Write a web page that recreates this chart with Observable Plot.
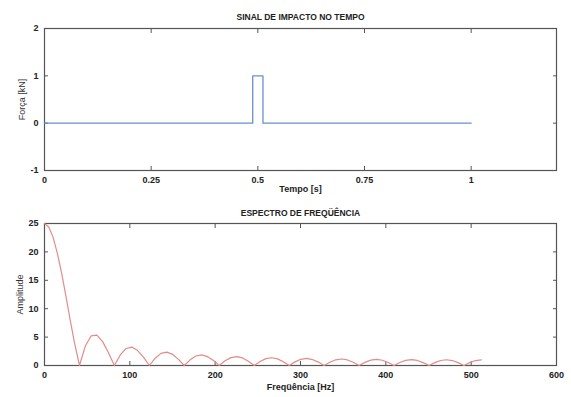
<!DOCTYPE html>
<html>
<head>
<meta charset="utf-8">
<script src="https://cdn.jsdelivr.net/npm/d3@7"></script>
<script src="https://cdn.jsdelivr.net/npm/@observablehq/plot@0.6"></script>
<style>
  html, body { margin: 0; padding: 0; background: #fff; }
  #chart { width: 571px; height: 397px; }
  #chart svg { display: block; }
</style>
</head>
<body>
<div id="chart"></div>
<script>
// ---- Data: time signal ----
const timeS = [0, 0.488, 0.488, 0.512, 0.512, 1];
const forceKN = [0, 0, 1, 1, 0, 0];
const timeTicks = [0, 0.25, 0.5, 0.75, 1];
const forceTicks = [-1, 0, 1, 2];

// ---- Data: spectrum ----
const freqHz = [
  0, 5, 10, 15, 20, 25, 30, 35, 41.0,
  47.8, 54.6, 61.4, 68.3, 75.1, 81.9,
  88.8, 95.6, 102.4, 109.2, 116.1, 122.9,
  129.7, 136.5, 143.4, 150.2, 157.0, 163.8,
  170.7, 177.5, 184.3, 191.2, 198.0, 204.8,
  211.6, 218.5, 225.3, 232.1, 238.9, 245.8,
  252.6, 259.4, 266.2, 273.1, 279.9, 286.7,
  293.6, 300.4, 307.2, 314.0, 320.9, 327.7,
  334.5, 341.3, 348.2, 355.0, 361.8, 368.6,
  375.5, 382.3, 389.1, 396.0, 402.8, 409.6,
  416.4, 423.3, 430.1, 436.9, 443.7, 450.6,
  457.4, 464.2, 471.0, 477.9, 484.7, 491.5,
  498.4, 505.2, 512
];
const amplitude = [
  25, 24.4, 22.6, 19.8, 16.3, 12.3, 8.1, 4.1, 0,
  3.42, 5.20, 5.34, 4.16, 2.19, 0,
  1.86, 3.00, 3.24, 2.63, 1.43, 0,
  1.29, 2.13, 2.35, 1.95, 1.08, 0,
  1.00, 1.67, 1.87, 1.56, 0.88, 0,
  0.83, 1.39, 1.57, 1.33, 0.75, 0,
  0.71, 1.21, 1.37, 1.17, 0.66, 0,
  0.64, 1.09, 1.24, 1.05, 0.60, 0,
  0.58, 1.00, 1.14, 0.98, 0.56, 0,
  0.55, 0.94, 1.08, 0.92, 0.53, 0,
  0.52, 0.90, 1.03, 0.89, 0.51, 0,
  0.51, 0.88, 1.01, 0.87, 0.50, 0,
  0.50, 0.87, 1.00
];
const freqTicks = [0, 100, 200, 300, 400, 500, 600];
const ampTicks = [0, 5, 10, 15, 20, 25];

const title1 = "SINAL DE IMPACTO NO TEMPO";
const title2 = "ESPECTRO DE FREQÜÊNCIA";
const xLabel1 = "Tempo [s]";
const yLabel1 = "Força [kN]";
const xLabel2 = "Freqüência [Hz]";
const yLabel2 = "Amplitude";

const timeData = timeS.map((t, i) => ({t, f: forceKN[i]}));
const specData = freqHz.map((f, i) => ({f, a: amplitude[i]}));

const axisColor = "#555";
const font = "Liberation Sans, Arial, sans-serif";

function boxAxes(xTicks, yTicks, xLabel, yLabel, xLabelOffset, yLabelOffset) {
  return [
    Plot.axisX({anchor: "bottom", ticks: xTicks, tickSize: 0, tickPadding: 6, tickFormat: d => String(d),
      fontSize: 9, fontWeight: "bold", color: "#222", label: xLabel, labelAnchor: "center", labelArrow: "none", labelOffset: xLabelOffset}),
    Plot.axisX({anchor: "bottom", ticks: xTicks, tickSize: -4, text: null, label: null, stroke: axisColor}),
    Plot.axisX({anchor: "top", ticks: xTicks, tickSize: -4, text: null, label: null, stroke: axisColor}),
    Plot.axisY({anchor: "left", ticks: yTicks, tickSize: 0, tickPadding: 6, tickFormat: d => String(d),
      fontSize: 9, fontWeight: "bold", color: "#222", label: null}),
    Plot.axisY({anchor: "left", ticks: [], tickSize: 0, fontSize: 9, fontWeight: "normal", color: "#333",
      label: yLabel, labelAnchor: "center", labelArrow: "none", labelOffset: yLabelOffset}),
    Plot.axisY({anchor: "left", ticks: yTicks, tickSize: -4, text: null, label: null, stroke: axisColor}),
    Plot.axisY({anchor: "right", ticks: yTicks, tickSize: -4, text: null, label: null, stroke: axisColor}),
    Plot.frame({stroke: axisColor, strokeWidth: 1.2})
  ];
}

const plot1 = Plot.plot({
  width: 571, height: 200,
  marginLeft: 44, marginRight: 15, marginTop: 28, marginBottom: 30,
  style: {fontFamily: font, fontSize: "9px", background: "#fff", color: "#222"},
  x: {domain: [0, 1.2]},
  y: {domain: [-1, 2]},
  marks: [
    ...boxAxes(timeTicks, forceTicks, xLabel1, yLabel1, 21, 26),
    Plot.line(timeData, {x: "t", y: "f", stroke: "#6a8fd0", strokeWidth: 1.3}),
    Plot.text([title1], {frameAnchor: "top", dy: -15, text: d => d, fontSize: 8.5, fontWeight: "bold", fill: "#222"})
  ]
});

const plot2 = Plot.plot({
  width: 571, height: 197,
  marginLeft: 44, marginRight: 15, marginTop: 23, marginBottom: 32,
  style: {fontFamily: font, fontSize: "9px", background: "#fff", color: "#222"},
  x: {domain: [0, 600]},
  y: {domain: [0, 25]},
  marks: [
    ...boxAxes(freqTicks, ampTicks, xLabel2, yLabel2, 24, 28),
    Plot.line(specData, {x: "f", y: "a", stroke: "#e58a8a", strokeWidth: 1.2}),
    Plot.text([title2], {frameAnchor: "top", dy: -14, text: d => d, fontSize: 8.5, fontWeight: "bold", fill: "#222"})
  ]
});

const chart = document.getElementById("chart");
chart.appendChild(plot1);
chart.appendChild(plot2);
</script>
</body>
</html>
